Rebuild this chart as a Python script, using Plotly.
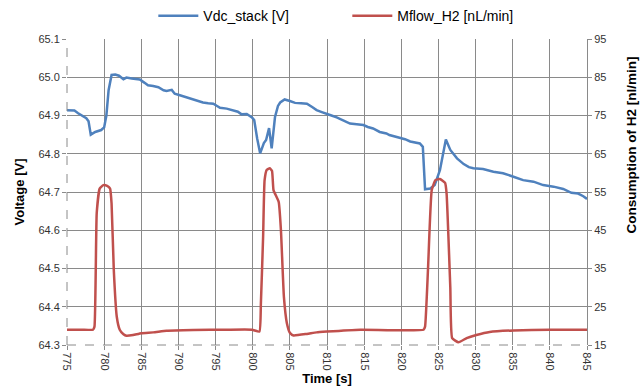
import plotly.graph_objects as go

# Voltage series (Vdc_stack [V])
t_v = [775.0, 776.0, 776.5, 777.0, 777.6, 777.9, 778.2, 778.8, 779.6, 780.0, 780.3, 780.6, 781.0, 781.5,
       782.0, 782.6, 783.0, 783.7, 784.8, 785.4, 785.9, 786.6, 787.3, 788.0, 788.4, 789.1, 789.5, 790.2,
       790.7, 791.5, 792.2, 792.8, 793.3, 794.0, 794.7, 795.2, 795.6, 796.5, 797.4, 798.0, 798.5, 799.2,
       799.9, 800.2, 800.6, 801.0, 801.5, 801.8, 802.2, 802.55, 803.0, 803.4, 803.7, 804.3, 805.0, 805.7,
       806.5, 807.3, 808.0, 808.6, 809.3, 810.0, 810.6, 811.3, 812.2, 813.1, 814.0, 814.9, 815.5, 816.2,
       817.1, 818.0, 818.4, 819.0, 819.8, 820.5, 821.2, 822.0, 822.5, 822.9, 823.2, 823.9, 824.5, 825.2,
       825.6, 826.0, 826.6, 827.5, 828.4, 829.1, 829.7, 831.0, 832.4, 833.7, 835.1, 836.4, 837.8, 839.1,
       840.5, 841.8, 842.9, 843.8, 844.5, 845.0]
vdc = [64.914, 64.913, 64.906, 64.899, 64.893, 64.885, 64.850, 64.857, 64.862, 64.869, 64.900, 64.966, 65.006, 65.007,
       65.004, 64.995, 64.999, 64.997, 64.994, 64.986, 64.979, 64.977, 64.974, 64.966, 64.964, 64.967, 64.957, 64.953,
       64.950, 64.945, 64.940, 64.937, 64.934, 64.932, 64.931, 64.925, 64.920, 64.918, 64.914, 64.910, 64.903, 64.904,
       64.895, 64.888, 64.840, 64.801, 64.828, 64.836, 64.867, 64.814, 64.896, 64.925, 64.934, 64.942, 64.938, 64.933,
       64.932, 64.931, 64.922, 64.914, 64.909, 64.905, 64.900, 64.895, 64.886, 64.879, 64.877, 64.875, 64.870, 64.866,
       64.857, 64.853, 64.849, 64.846, 64.843, 64.838, 64.832, 64.829, 64.827, 64.818, 64.707, 64.709, 64.718, 64.757,
       64.800, 64.837, 64.810, 64.788, 64.773, 64.765, 64.762, 64.760, 64.753, 64.749, 64.740, 64.731, 64.727, 64.718,
       64.714, 64.708, 64.698, 64.696, 64.689, 64.682]

# Hydrogen flow series (Mflow_H2 [nL/min])
t_h = [775.0, 777.0, 778.5, 778.7, 779.0, 779.4, 779.9, 780.4, 780.8, 781.0, 781.3, 781.7, 782.1, 782.6,
       783.0, 783.9, 785.0, 786.6, 788.4, 792.0, 796.5, 799.9, 800.9, 801.1, 801.4, 801.6, 801.9, 802.3,
       802.6, 802.8, 803.5, 803.8, 804.2, 804.6, 805.0, 805.5, 807.3, 808.6, 810.0, 814.5, 823.0, 823.2,
       823.6, 824.1, 824.6, 825.2, 825.9, 826.1, 826.6, 826.85, 827.7, 828.8, 830.1, 831.9, 835.1, 840.0, 845.0]
mflow = [19.0, 19.0, 19.0, 19.8, 49.4, 55.9, 56.8, 56.6, 55.9, 52.0, 34.6, 22.4, 19.0, 17.8,
         17.4, 17.6, 18.1, 18.3, 18.7, 18.9, 19.0, 19.0, 18.5, 25.9, 43.3, 58.1, 60.8, 61.2,
         60.5, 55.5, 52.4, 45.0, 27.6, 20.7, 18.2, 17.5, 17.9, 18.3, 18.5, 19.0, 19.0, 19.8,
         35.0, 55.5, 58.1, 58.4, 57.4, 54.6, 30.0, 16.8, 15.7, 16.8, 17.6, 18.4, 18.8, 19.0, 19.0]

x_ticks = list(range(775, 850, 5))
y_ticks = [64.3, 64.4, 64.5, 64.6, 64.7, 64.8, 64.9, 65.0, 65.1]
y2_ticks = list(range(15, 100, 10))

FONT = "Liberation Sans"
GRID = "#8a8a8a"
AXIS = "#8a8a8a"

fig = go.Figure()
fig.add_trace(go.Scatter(x=t_v, y=vdc, name="Vdc_stack [V]", mode="lines",
                         line=dict(color="#4F81BD", width=2.5), yaxis="y"))
fig.add_trace(go.Scatter(x=t_h, y=mflow, name="Mflow_H2 [nL/min]", mode="lines",
                         line=dict(color="#C0504D", width=2.5, shape="spline", smoothing=0.4), yaxis="y2"))

fig.update_layout(
    width=643, height=387,
    margin=dict(l=67, r=56, t=39, b=42, autoexpand=False),
    paper_bgcolor="white", plot_bgcolor="white",
    font=dict(family=FONT, size=11, color="#333333"),
    showlegend=True,
    legend=dict(orientation="h", x=0.166, xanchor="left", y=1.075, yanchor="middle",
                xref="paper", yref="paper",
                font=dict(family=FONT, size=14, color="#000000"), itemwidth=40,
                entrywidth=139, entrywidthmode="pixels",
                bgcolor="rgba(0,0,0,0)", tracegroupgap=0),
    xaxis=dict(range=[775, 845], tickvals=x_ticks, ticktext=[str(v) for v in x_ticks],
               tickangle=90, showgrid=True, gridcolor=GRID, gridwidth=1,
               showline=False, zeroline=False, ticks="outside", ticklen=4, tickcolor=AXIS,
               tickfont=dict(family=FONT, size=11, color="#333333"),
               title=dict(text="<b>Time [s]</b>", font=dict(family=FONT, size=13, color="#000000"), standoff=2)),
    yaxis=dict(range=[64.3, 65.1], tickvals=y_ticks, ticktext=[f"{v:.1f}" for v in y_ticks],
               showgrid=True, gridcolor=GRID, gridwidth=1, showline=False, zeroline=False,
               ticks="outside", ticklen=4, tickcolor=AXIS,
               tickfont=dict(family=FONT, size=11, color="#333333"),
               title=dict(text="<b>Voltage [V]</b>", font=dict(family=FONT, size=13, color="#000000"), standoff=10)),
    yaxis2=dict(range=[15, 95], tickvals=y2_ticks, overlaying="y", side="right",
                showgrid=False, showline=True, linecolor=AXIS, linewidth=1, zeroline=False,
                ticks="outside", ticklen=4, tickcolor=AXIS,
                tickfont=dict(family=FONT, size=11, color="#333333")),
    annotations=[
        dict(text="<b>Consumption of H2 [nl/min]</b>", xref="paper", yref="paper",
             x=1.0865, y=0.655, xanchor="center", yanchor="middle", textangle=-90,
             showarrow=False, font=dict(family=FONT, size=13.5, color="#000000")),
    ],
    shapes=[
        dict(type="line", xref="paper", yref="paper", x0=0, x1=0, y0=0, y1=1,
             line=dict(color=AXIS, width=1, dash="dash"), layer="above"),
        dict(type="line", xref="paper", yref="paper", x0=0, x1=1, y0=0, y1=0,
             line=dict(color=AXIS, width=1, dash="dash"), layer="above"),
    ],
)

fig.write_html("out.html")
